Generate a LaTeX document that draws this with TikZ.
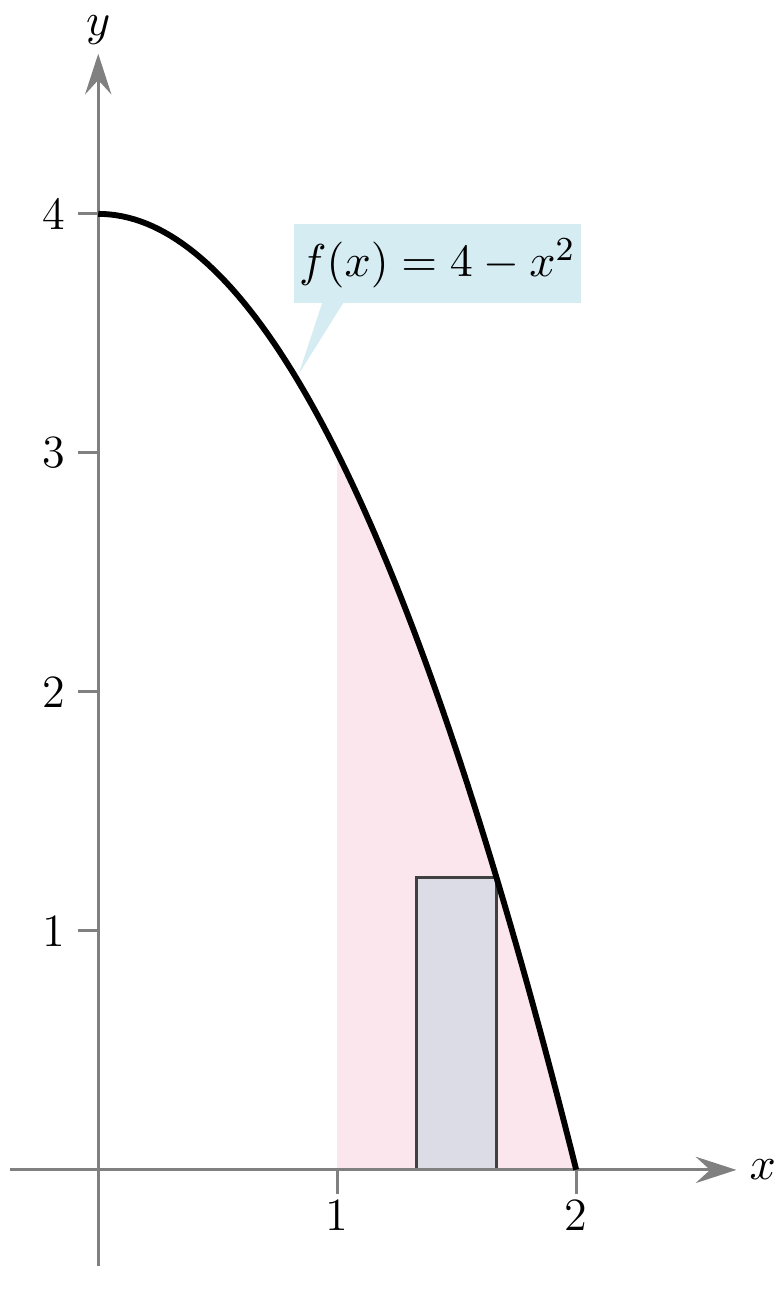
\documentclass[tikz,border=0pt]{standalone}
\usepackage{tikz}
\usetikzlibrary{arrows.meta,positioning}

\definecolor{areapink}{RGB}{250,230,236}
\definecolor{slabgray}{RGB}{220,220,231}
\definecolor{calloutblue}{RGB}{213,236,242}
\definecolor{axisgray}{RGB}{128,128,128}

\begin{document}
\begin{tikzpicture}[
        x=2cm, y=2cm,
        every node/.style={font=\fontsize{11}{13}\selectfont, inner sep=1pt},
        axis/.style={draw, axisgray, line width=0.7pt, -{Stealth[length=3.4mm, width=2.2mm, inset=1.2mm]}},
        tick/.style={draw, axisgray, line width=0.7pt},
        curve/.style={draw, black, line width=1.4pt},
        area/.style={fill=areapink},
        slab/.style={draw, black!75, fill=slabgray, line width=0.7pt},
        callout/.style={fill=calloutblue, minimum width=2.406cm, minimum height=0.66cm, inner sep=0pt},
    ]

    % Frame
    \useasboundingbox (-0.411, -0.515) rectangle (2.834, 4.895);

    % Shaded region from 1 to 2
    \fill[area] (1, 0) -- plot[domain=1:2, samples=60] (\x, {4 - \x*\x}) -- cycle;

    % Representative rectangle
    \coordinate (sl) at (4/3, 0);
    \coordinate (sr) at (5/3, 11/9);
    \draw[slab] (sl) rectangle (sr);

    % === AXES ===
    \coordinate (xL) at (-0.37, 0);
    \coordinate (xR) at (2.67, 0);
    \coordinate (yB) at (0, -0.40);
    \coordinate (yT) at (0, 4.67);
    \draw[axis] (xL) -- (xR);
    \draw[axis] (yB) -- (yT);
    \node (xlab) at (2.78, 0) {$x$};
    \node (ylab) at (0, 4.77) {$y$};

    % x ticks
    \coordinate (x1) at (1, 0);
    \coordinate (x1b) at (1, -0.1);
    \draw[tick] (x1) -- (x1b);
    \node (lx1) at (1, -0.19) {1};

    \coordinate (x2) at (2, 0);
    \coordinate (x2b) at (2, -0.1);
    \draw[tick] (x2) -- (x2b);
    \node (lx2) at (2, -0.19) {2};

    % y ticks
    \coordinate (y1) at (0, 1);
    \coordinate (y1l) at (-0.084, 1);
    \draw[tick] (y1l) -- (y1);
    \node (ly1) at (-0.184, 1) {1};

    \coordinate (y2) at (0, 2);
    \coordinate (y2l) at (-0.084, 2);
    \draw[tick] (y2l) -- (y2);
    \node (ly2) at (-0.184, 2) {2};

    \coordinate (y3) at (0, 3);
    \coordinate (y3l) at (-0.084, 3);
    \draw[tick] (y3l) -- (y3);
    \node (ly3) at (-0.184, 3) {3};

    \coordinate (y4) at (0, 4);
    \coordinate (y4l) at (-0.084, 4);
    \draw[tick] (y4l) -- (y4);
    \node (ly4) at (-0.184, 4) {4};

    % === CALLOUT ===
    \node[callout] (fbox) at (1.419, 3.793) {$f(x) = 4 - x^2$};
    \coordinate (ftip) at (0.839, 3.33);
    \fill[calloutblue] ([xshift=0.25cm, yshift=0.5pt]fbox.south west) -- (ftip)
        -- ([xshift=0.43cm, yshift=0.5pt]fbox.south west) -- cycle;

    % Curve
    \draw[curve] plot[domain=0:2, samples=80] (\x, {4 - \x*\x});

\end{tikzpicture}
\end{document}
